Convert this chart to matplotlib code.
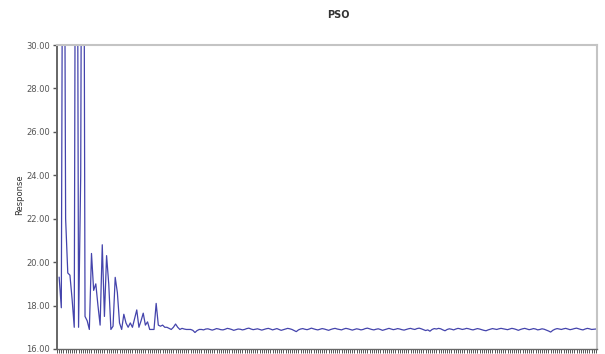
import numpy as np
import matplotlib
matplotlib.use("Agg")
import matplotlib.pyplot as plt
from matplotlib.ticker import FormatStrFormatter, MultipleLocator

# best response per iteration of the PSO run (early peaks go off the top of the axis)
response_start = [
    19.30, 17.90, 50.00, 22.00, 19.50, 19.40, 18.30, 17.00, 55.00, 17.00,
    24.00, 55.00, 17.50, 17.30, 16.90, 20.40, 18.70, 19.00, 18.00, 17.10,
    20.80, 17.50, 20.30, 19.00, 16.90, 17.05, 19.30, 18.60, 17.20, 16.90,
    17.60, 17.20, 17.00, 17.20, 17.00, 17.40, 17.80, 17.00, 17.30, 17.65,
    17.10, 17.25, 16.90, 16.90, 16.90, 18.10, 17.10, 17.05, 17.10, 17.00,
    17.00, 16.95, 16.90, 17.00, 17.15, 17.00, 16.90, 16.95, 16.92, 16.90,
    16.90, 16.90, 16.86, 16.76, 16.85, 16.90,
]
response_tail = [
    16.90, 16.88, 16.92, 16.93, 16.90, 16.87, 16.90, 16.94, 16.92, 16.89,
    16.88, 16.91, 16.95, 16.93, 16.90, 16.86, 16.89, 16.92, 16.91, 16.88,
    16.90, 16.94, 16.96, 16.92, 16.89, 16.91, 16.93, 16.90, 16.87, 16.90,
    16.93, 16.95, 16.92, 16.88, 16.91, 16.94, 16.90, 16.86, 16.89, 16.92,
    16.95, 16.93, 16.90, 16.85, 16.80, 16.88, 16.92, 16.94, 16.91, 16.89,
    16.92, 16.96, 16.93, 16.90, 16.88, 16.91, 16.94, 16.92, 16.89, 16.86,
    16.90, 16.93, 16.95, 16.92, 16.90, 16.88, 16.92, 16.95, 16.93, 16.90,
    16.87, 16.90, 16.93, 16.91, 16.88, 16.90, 16.94, 16.96, 16.93, 16.90,
    16.88, 16.91, 16.93, 16.90, 16.86, 16.89, 16.92, 16.95, 16.92, 16.89,
    16.91, 16.94, 16.92, 16.89, 16.87, 16.90, 16.93, 16.95, 16.92, 16.90,
    16.94, 16.96, 16.93, 16.89, 16.85, 16.88, 16.82, 16.90, 16.94, 16.92,
    16.95, 16.93, 16.88, 16.84, 16.90, 16.93, 16.91, 16.88, 16.92, 16.95,
    16.93, 16.90, 16.92, 16.95, 16.93, 16.90, 16.88, 16.91, 16.94, 16.92,
    16.89, 16.86, 16.84, 16.88, 16.91, 16.94, 16.92, 16.90, 16.93, 16.95,
    16.93, 16.91, 16.89, 16.92, 16.95, 16.93, 16.90, 16.86, 16.90, 16.93,
    16.95, 16.92, 16.89, 16.91, 16.94, 16.92, 16.88, 16.90, 16.93, 16.91,
    16.87, 16.83, 16.78, 16.86, 16.91, 16.94, 16.92, 16.90, 16.93, 16.95,
    16.92, 16.89, 16.91, 16.94, 16.96, 16.93, 16.90, 16.88, 16.92, 16.95,
    16.93, 16.90, 16.91, 16.92,
]
response = response_start + response_tail
iterations = np.arange(len(response))

y_ticks = [16, 18, 20, 22, 24, 26, 28, 30]

fig = plt.figure(figsize=(6.05, 3.54), dpi=100)
ax = fig.add_axes([57 / 605, 1 - 349 / 354, 540 / 605, 304 / 354])

ax.plot(iterations, response, color="#4444ac", lw=0.9)

ax.set_xlim(-1, len(response) - 0.5)
ax.set_ylim(16, 30)
ax.set_yticks(y_ticks)
ax.yaxis.set_major_formatter(FormatStrFormatter("%.2f"))
ax.xaxis.set_major_locator(MultipleLocator(1))
ax.set_xticklabels([])
ax.tick_params(axis="x", length=3, width=0.7, color="#555555", direction="out")
ax.tick_params(axis="y", length=3, width=1.0, color="#555555", labelsize=6,
               labelcolor="#555555", pad=2)

ax.spines["left"].set_color("#666666")
ax.spines["left"].set_linewidth(1.4)
ax.spines["bottom"].set_color("#666666")
ax.spines["bottom"].set_linewidth(1.0)
for side in ("top", "right"):
    ax.spines[side].set_color("#c4c4c4")
    ax.spines[side].set_linewidth(1.5)

fig.text(20 / 605, 1 - 195 / 354, "Response", rotation=90, fontsize=6,
         color="#333333", ha="center", va="center")
fig.text(338 / 605, 1 - 15 / 354, "PSO", fontsize=7, fontweight="bold",
         color="#333333", ha="center", va="center")

fig.savefig("out.png", dpi=100)
